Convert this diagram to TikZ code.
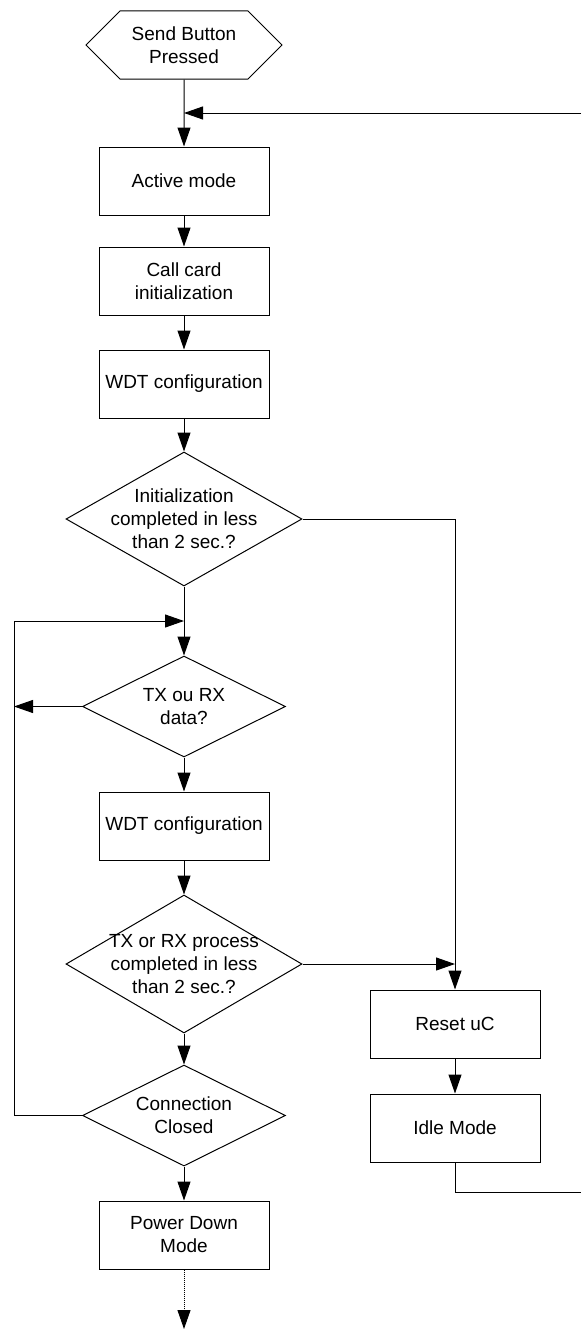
\documentclass[tikz,border=0pt]{standalone}
\usepackage{fontspec}
\setmainfont{Liberation Sans}
\usetikzlibrary{arrows.meta,positioning,calc,shapes.geometric,shapes.symbols}

\begin{document}
\begin{tikzpicture}[
  x=1pt, y=-1pt,
  line width=1pt,
  >={Triangle[length=19pt,width=13pt]},
  every node/.style={font=\fontsize{19}{23}\selectfont},
  procbox/.style={draw, rectangle, minimum width=170pt, minimum height=68pt,
                  align=center, inner sep=0pt},
  startbox/.style={draw, signal, signal to=east and west, signal pointer angle=90,
                   minimum width=196pt, minimum height=68pt, align=center, inner sep=0pt},
  decision/.style n args={2}{draw, diamond, inner sep=0pt,
                   minimum width=#1, minimum height=#2},
  txt/.style={align=center}
]
  \useasboundingbox (0,0) rectangle (581,1330);
  %% Main column
  \node[startbox] (start) at (184,45) {Send Button\\Pressed};
  \node[procbox, below=67pt of start] (active) {Active mode};
  \node[procbox, below=31pt of active] (card) {Call card\\initialization};
  \node[procbox, below=34pt of card] (wdta) {WDT configuration};
  \node[decision={236pt}{134pt}, below=33pt of wdta,
        label={[txt]center:Initialization\\completed in less\\than 2 sec.?}] (deca) {};
  \node[decision={203pt}{101pt}, below=69pt of deca,
        label={[txt]center:TX ou RX\\data?}] (txrx) {};
  \node[procbox, below=34pt of txrx] (wdtb) {WDT configuration};
  \node[decision={236pt}{138pt}, below=34pt of wdtb,
        label={[txt]center:TX or RX process\\completed in less\\than 2 sec.?}] (decb) {};
  \node[decision={203pt}{101pt}, below=31pt of decb,
        label={[txt]center:Connection\\Closed}] (closed) {};
  \node[procbox, below=34pt of closed] (power) {Power Down\\Mode};
  %% Right column
  \node[procbox] (reset) at (455,1024) {Reset uC};
  \node[procbox, below=35pt of reset] (idle) {Idle Mode};
  %% Helper points
  \coordinate (back) at (581,113);
  \coordinate (merge) at ($(deca.south)!0.5!(txrx.north)$);
  \coordinate (loopx) at ($(merge)+(-170,0)$);
  \coordinate (idleend) at (581,1192);
  \coordinate (stop) at (184,1329);
  %% Connectors
  \draw[->] (start) -- (active);
  \draw[->] (back) -- (back -| start);
  \draw[->] (active) -- (card);
  \draw[->] (card) -- (wdta);
  \draw[->] (wdta) -- (deca);
  \draw[->] (deca) -- (txrx);
  \draw[->] (deca.east) -| (reset);
  \draw[->] (txrx) -- (txrx -| loopx);
  \draw[->] (txrx) -- (wdtb);
  \draw[->] (wdtb) -- (decb);
  \draw[->] (decb) -- (decb -| reset);
  \draw[->] (decb) -- (closed);
  \draw[->] (closed) -| (loopx) -- (merge);
  \draw[->] (closed) -- (power);
  \draw[->, densely dotted] (power) -- (stop);
  \draw[->] (reset) -- (idle);
  \draw (idle) |- (idleend);
\end{tikzpicture}
\end{document}
